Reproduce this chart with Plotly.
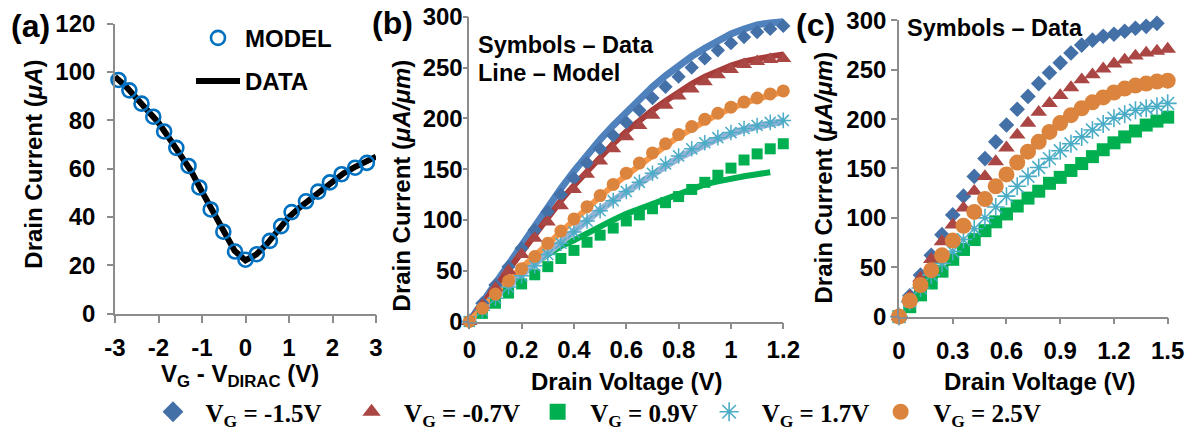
import plotly.graph_objects as go

FONT = "Liberation Sans, Arial, sans-serif"
SERIF = "Liberation Serif, Times New Roman, serif"
W, H = 1194, 435

# ---------------- Panel (a) data ----------------
a_model_x = [-2.92, -2.67, -2.39, -2.12, -1.87, -1.59, -1.31, -1.06, -0.80, -0.51, -0.24,
             0.00, 0.26, 0.56, 0.82, 1.06, 1.39, 1.67, 1.94, 2.21, 2.52, 2.79]
a_model_y = [96.7, 92.4, 86.9, 81.5, 75.4, 68.6, 61.1, 52.2, 43.1, 33.9, 25.7,
             22.3, 24.6, 30.1, 36.2, 42.0, 46.5, 50.5, 54.3, 57.7, 60.4, 62.4]
a_data_x = [-3.0, -2.75, -2.5, -2.25, -2.0, -1.75, -1.5, -1.25, -1.0, -0.75, -0.5, -0.25, 0.0,
            0.25, 0.5, 0.75, 1.0, 1.25, 1.5, 1.75, 2.0, 2.25, 2.5, 2.75, 3.0]
a_data_y = [98, 94, 89, 84, 79, 72.5, 66, 59, 50.5, 42.5, 33.5, 26, 22,
            24.5, 29, 35, 40, 44, 47.5, 51, 54.5, 58, 60.5, 62.5, 65]

# ---------------- Panel (b) data ----------------
b_vd = [0.00, 0.05, 0.10, 0.15, 0.20, 0.25, 0.30, 0.35, 0.40, 0.45, 0.50, 0.55, 0.60,
        0.65, 0.70, 0.75, 0.80, 0.85, 0.90, 0.95, 1.00, 1.05, 1.10, 1.15, 1.20]
b_data_m15 = [0, 18, 36, 54, 72, 90, 108, 125, 141, 156, 170, 183, 196, 208, 220, 231, 241, 250, 259, 267, 274, 280, 285, 288, 291]
b_data_m07 = [0, 16, 33, 50, 66, 82, 98, 114, 130, 145, 158, 170, 182, 193, 203, 213, 222, 229, 236, 243, 248, 253, 256, 258, 259]
b_data_09 = [0, 8, 18, 28, 37, 46, 54, 62, 70, 78, 85, 92, 99, 105, 111, 117, 123, 130, 137, 144, 151, 159, 165, 170, 175]
b_data_17 = [0, 11, 23, 34, 45, 55, 66, 77, 88, 99, 109, 119, 128, 137, 146, 155, 163, 170, 176, 181, 186, 190, 193, 196, 198]
b_data_25 = [0, 13, 27, 40, 52, 64, 77, 89, 101, 113, 124, 135, 146, 156, 166, 175, 184, 192, 199, 205, 211, 216, 220, 224, 227]

b_model_m15 = [0, 19, 38, 57, 76, 95, 113, 131, 148, 164, 179, 193, 206, 219, 231, 242, 252, 261, 269, 276, 283, 288, 292, 294, 295]
b_model_m07 = [0, 17, 35, 52, 69, 86, 103, 119, 134, 148, 162, 175, 187, 198, 208, 217, 226, 234, 241, 247, 252, 256, 259, 261, 263]
b_model_17 = [0, 12, 24, 35, 46, 57, 68, 79, 90, 100, 110, 119, 128, 137, 145, 153, 161, 168, 174, 180, 185, 189, 192, 195, 197]
b_model_25 = [0, 14, 28, 41, 53, 65, 77, 89, 101, 112, 123, 134, 144, 154, 164, 173, 182, 190, 197, 204, 210, 215, 219, 223, 226]
b_vd_model_09 = [0.00, 0.05, 0.10, 0.15, 0.20, 0.25, 0.30, 0.35, 0.40, 0.45, 0.50, 0.55, 0.60,
                 0.65, 0.70, 0.75, 0.80, 0.85, 0.90, 0.95, 1.00, 1.05, 1.10, 1.15]
b_model_09 = [0, 13, 25, 36, 47, 57, 66, 74, 80, 87, 94, 100, 106, 111, 116, 121, 126, 131, 135, 138, 141, 143, 145, 147]

# ---------------- Panel (c) data ----------------
c_vd = [0.00, 0.06, 0.12, 0.18, 0.24, 0.30, 0.36, 0.42, 0.48, 0.54, 0.60, 0.66, 0.72,
        0.78, 0.84, 0.90, 0.96, 1.02, 1.08, 1.14, 1.20, 1.26, 1.32, 1.38, 1.44, 1.50]
c_vd_m15 = [0.00, 0.06, 0.12, 0.18, 0.24, 0.30, 0.36, 0.42, 0.48, 0.54, 0.60, 0.66, 0.72,
            0.78, 0.84, 0.90, 0.96, 1.02, 1.08, 1.14, 1.20, 1.26, 1.32, 1.38, 1.44]
c_data_m15 = [0, 21, 42, 62, 83, 103, 122, 142, 160, 177, 194, 210, 223, 236, 247, 257, 267, 275, 280, 284, 286, 289, 292, 294, 297]
c_data_m07 = [0, 20, 39, 58, 76, 93, 110, 127, 142, 157, 171, 184, 196, 207, 216, 224, 232, 240, 245, 251, 256, 260, 264, 267, 269, 271]
c_data_09 = [0, 10, 22, 34, 46, 58, 68, 78, 87, 96, 104, 112, 120, 127, 135, 141, 148, 155, 162, 169, 176, 182, 188, 194, 198, 202]
c_data_17 = [0, 15, 29, 42, 54, 66, 78, 89, 100, 111, 122, 132, 142, 151, 160, 168, 175, 182, 189, 195, 201, 205, 209, 211, 213, 216]
c_data_25 = [0, 16, 32, 47, 62, 77, 92, 106, 119, 132, 144, 156, 167, 177, 187, 196, 204, 211, 217, 222, 227, 231, 234, 236, 238, 239]

series_names = ["V<sub>G</sub> = -1.5V", "V<sub>G</sub> = -0.7V", "V<sub>G</sub> = 0.9V",
                "V<sub>G</sub> = 1.7V", "V<sub>G</sub> = 2.5V"]

# ---------------- styles ----------------
C_BLUE = "#4470a8"
C_RED = "#aa4643"
C_GREEN = "#00b050"
C_CYAN = "#4bacc6"
C_ORANGE = "#db843d"
L_BLUE = "#4f81bd"
L_RED = "#a83c3a"
L_GREEN = "#00b050"
L_CYAN = "#95b3d7"
L_ORANGE = "#f79646"

def px(x):
    return x / W

def py(y):
    return 1 - y / H

fig = go.Figure()

# ---- panel (a) ----
fig.add_trace(go.Scatter(x=a_data_x, y=a_data_y, mode="lines", name="DATA",
                         line=dict(color="black", width=6), xaxis="x", yaxis="y",
                         legend="legend2", legendrank=2, legendgroup="d", cliponaxis=False))
fig.add_trace(go.Scatter(x=a_model_x, y=a_model_y, mode="markers", name="MODEL",
                         marker=dict(symbol="circle-open", size=14, color="#0070c0",
                                     line=dict(width=2.6, color="#0070c0")),
                         xaxis="x", yaxis="y", legend="legend2", legendrank=1,
                         legendgroup="m", cliponaxis=False))

# ---- panel (b) ----
b_lines = [(b_vd, b_model_m15, L_BLUE, 7), (b_vd, b_model_m07, L_RED, 6),
           (b_vd_model_09, b_model_09, L_GREEN, 6), (b_vd, b_model_17, L_CYAN, 7),
           (b_vd, b_model_25, L_ORANGE, 6)]
for xs, ys, col, wd in b_lines:
    fig.add_trace(go.Scatter(x=xs, y=ys, mode="lines", line=dict(color=col, width=wd),
                             xaxis="x2", yaxis="y2", showlegend=False, cliponaxis=False))

b_marks = [(b_data_m15, "diamond", C_BLUE, 11),
           (b_data_m07, "triangle-up", C_RED, 14),
           (b_data_09, "square", C_GREEN, 11),
           (b_data_17, "asterisk-open", C_CYAN, 13),
           (b_data_25, "circle", C_ORANGE, 13)]
for ys, sym, col, sz in b_marks:
    mk = dict(symbol=sym, size=sz, color=col)
    if sym == "asterisk-open":
        mk["line"] = dict(color=col, width=1.5)
    fig.add_trace(go.Scatter(x=b_vd, y=ys, mode="markers", marker=mk,
                             xaxis="x2", yaxis="y2", showlegend=False, cliponaxis=False))

# ---- panel (c) ----
c_marks = [(c_vd_m15, c_data_m15, "diamond", C_BLUE, 12),
           (c_vd, c_data_m07, "triangle-up", C_RED, 14.5),
           (c_vd, c_data_09, "square", C_GREEN, 13),
           (c_vd, c_data_17, "asterisk-open", C_CYAN, 15),
           (c_vd, c_data_25, "circle", C_ORANGE, 16)]
for xs, ys, sym, col, sz in c_marks:
    mk = dict(symbol=sym, size=sz, color=col)
    if sym == "asterisk-open":
        mk["line"] = dict(color=col, width=1.6)
    fig.add_trace(go.Scatter(x=xs, y=ys, mode="markers", marker=mk,
                             xaxis="x3", yaxis="y3", showlegend=False, cliponaxis=False))

# legend entries (bottom); non-breaking spaces only set the gaps between entries
lead_pad = 2
trail_pad = [4, 2, 1, 1, 0]
for (xs, ys, sym, col, sz), nm, tp in zip(c_marks, series_names, trail_pad):
    mk = dict(symbol=sym, size=16, color=col)
    if sym == "asterisk-open":
        mk["line"] = dict(color=col, width=1.6)
    fig.add_trace(go.Scatter(x=[None], y=[None], mode="markers", marker=mk,
                             name="\u00a0" * lead_pad + nm + "\u00a0" * tp,
                             xaxis="x3", yaxis="y3", showlegend=True, legend="legend"))

# ---------------- axes ----------------
def axis(**kw):
    base = dict(showline=True, linecolor="#8c8c8c", linewidth=1.6, ticks="outside",
                tickcolor="#8c8c8c", tickwidth=1.6, ticklen=6, showgrid=False,
                zeroline=False, automargin=False,
                tickfont=dict(family=FONT, size=24, color="black", weight="bold"))
    base.update(kw)
    return base

fig.update_layout(
    xaxis=axis(domain=[px(115), px(376)], range=[-3, 3], anchor="y",
               tickvals=[-3, -2, -1, 0, 1, 2, 3], ticktext=["-3", "-2", "-1", "0", "1", "2", "3"],
               ticklen=8, ticklabelstandoff=4),
    yaxis=axis(domain=[py(318), py(24)], range=[0, 120], anchor="x",
               tickvals=[0, 20, 40, 60, 80, 100, 120], ticklabelstandoff=7),
    xaxis2=axis(domain=[px(469.3), px(783.3)], range=[0, 1.2], anchor="y2",
                tickvals=[0, 0.2, 0.4, 0.6, 0.8, 1.0, 1.2],
                ticktext=["0", "0.2", "0.4", "0.6", "0.8", "1", "1.2"], ticklabelstandoff=0),
    yaxis2=axis(domain=[py(326), py(17)], range=[0, 300], anchor="x2",
                tickvals=[0, 50, 100, 150, 200, 250, 300], ticklen=5, ticklabelstandoff=-5),
    xaxis3=axis(domain=[px(899), px(1167.7)], range=[0, 1.5], anchor="y3",
                tickvals=[0, 0.3, 0.6, 0.9, 1.2, 1.5],
                ticktext=["0", "0.3", "0.6", "0.9", "1.2", "1.5"], ticklabelstandoff=6),
    yaxis3=axis(domain=[py(321), py(20.7)], range=[0, 300], anchor="x3",
                tickvals=[0, 50, 100, 150, 200, 250, 300], ticklabelstandoff=0),
)

# ---------------- annotations ----------------
def ann(text, x, y, size, xanchor="center", angle=0, family=FONT):
    return dict(text=text, x=px(x), y=py(y), xref="paper", yref="paper", showarrow=False,
                xanchor=xanchor, yanchor="middle", textangle=angle,
                font=dict(family=family, size=size, color="black", weight="bold"))

annotations = [
    ann("(a)", 9, 26, 32, xanchor="left"),
    ann("(b)", 370, 23, 32, xanchor="left"),
    ann("(c)", 794, 25, 32, xanchor="left"),
    ann("Symbols – Data", 476, 46, 23.5, xanchor="left"),
    ann("Line – Model", 476, 74, 23.5, xanchor="left"),
    ann("Symbols – Data", 905, 28, 23.5, xanchor="left"),
    ann("Drain Current (<i>μA</i>)", 34, 167, 24, angle=-90),
    ann("Drain Current (<i>μA/μm</i>)", 401, 188, 24, angle=-90),
    ann("Drain Current (<i>μA/μm</i>)", 824, 180, 24, angle=-90),
    ann("V<sub>G</sub> - V<sub>DIRAC</sub> (V)", 240, 381, 24),
    ann("Drain Voltage (V)", 627, 387, 24),
    ann("Drain Voltage (V)", 1040, 387, 24),
]

fig.update_layout(
    width=W, height=H,
    margin=dict(l=0, r=0, t=0, b=0),
    paper_bgcolor="white", plot_bgcolor="white",
    annotations=annotations,
    showlegend=True,
    legend=dict(orientation="h", x=px(153), y=py(418), xanchor="left", yanchor="middle",
                font=dict(family=SERIF, size=25, color="black", weight="bold"),
                itemwidth=30, bgcolor="rgba(0,0,0,0)"),
    legend2=dict(orientation="v", x=px(191), y=py(16), xanchor="left", yanchor="top",
                 font=dict(family=FONT, size=24, color="black", weight="bold"),
                 itemwidth=44, traceorder="grouped", tracegroupgap=9,
                 bgcolor="rgba(0,0,0,0)"),
)

fig.write_html("out.html")
